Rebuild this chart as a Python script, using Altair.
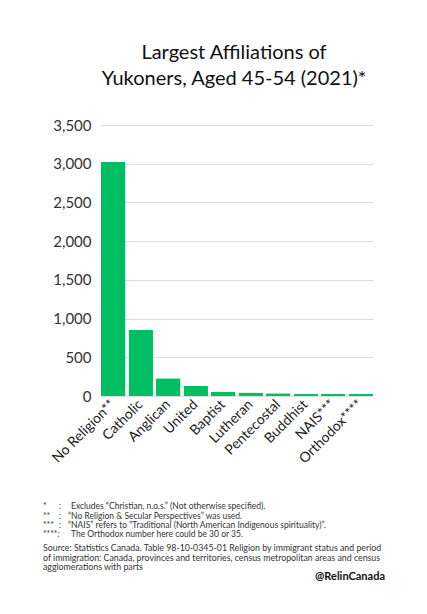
import altair as alt
import pandas as pd

categories = ["No Religion**", "Catholic", "Anglican", "United", "Baptist",
              "Lutheran", "Pentecostal", "Buddhist", "NAIS***", "Orthodox****"]
counts = [3025, 855, 230, 130, 55, 45, 35, 30, 30, 30]

title_lines = ["Largest Affiliations of", "Yukoners, Aged 45-54 (2021)*"]
foot_symbols = ["*", "**", "***", "****:"]
foot_colons = [":", ":", ":", ""]
foot_texts = [
    "Excludes \u201cChristian, n.o.s.\u201d (Not otherwise specified).",
    "\u201cNo Religion & Secular Perspectives\u201d was used.",
    "\u201cNAIS\u201d refers to \u201cTraditional (North American Indigenous spirituality)\u201d.",
    "The Orthodox number here could be 30 or 35.",
]
source_lines = [
    "Source: Statistics Canada. Table 98-10-0345-01 Religion by immigrant status and period",
    "of immigration: Canada, provinces and territories, census metropolitan areas and census",
    "agglomerations with parts",
]
handle = "@RelinCanada"

FONT = "Lato"
OX, OY = 101, 125  # plot origin in page coords

df = pd.DataFrame({"cat": categories, "n": counts})

bars = alt.Chart(df).mark_bar(color="#00BF63", cornerRadiusTopLeft=1, cornerRadiusTopRight=1).encode(
    x=alt.X("cat:N", sort=categories, title=None,
            scale=alt.Scale(paddingInner=0.11, paddingOuter=0.0),
            axis=alt.Axis(labelAngle=-45, labelFontSize=14, labelFont=FONT, labelColor="#222",
                          ticks=False, domain=False, labelPadding=6, labelAlign="right",
                          labelBaseline="middle")),
    y=alt.Y("n:Q", title=None,
            scale=alt.Scale(domain=[0, 3500]),
            axis=alt.Axis(values=[0, 500, 1000, 1500, 2000, 2500, 3000, 3500], format=",.0f",
                          labelFontSize=15, labelFont=FONT, labelColor="#333", ticks=False,
                          domain=False, labelPadding=10, gridColor="#dddddd", gridWidth=1)),
)

def txt(s, x, y, size, align="left", weight="normal", color="#333"):
    return alt.Chart(pd.DataFrame({"t": [s]})).mark_text(
        align=align, baseline="middle", fontSize=size, font=FONT, fontWeight=weight, color=color
    ).encode(x=alt.value(x - OX), y=alt.value(y - OY), text="t:N")

layers = [bars]
title_y = [53, 79]
for line, y in zip(title_lines, title_y):
    layers.append(txt(line, 234, y, 20, align="center", color="#111"))

foot_y = [506, 516, 525, 534]
text_x = [71, 68, 68, 71]
for sym, col, t, y, tx in zip(foot_symbols, foot_colons, foot_texts, foot_y, text_x):
    layers.append(txt(sym, 43, y, 8.5))
    if col:
        layers.append(txt(col, 59, y, 8.5))
    layers.append(txt(t, tx, y, 8.5))

for line, y in zip(source_lines, [548, 557.5, 567]):
    layers.append(txt(line, 43, y, 8.8))

layers.append(txt(handle, 385, 577, 11, align="right", weight="bold", color="#111"))

chart = alt.layer(*layers).properties(
    width=272, height=271,
    autosize=alt.AutoSizeParams(type="none"),
    padding={"left": OX, "top": OY, "right": 427 - OX - 272, "bottom": 614 - OY - 271},
    background="white",
).configure_view(stroke=None)

chart.save("out.html", embed_options={"renderer": "svg", "actions": False})
